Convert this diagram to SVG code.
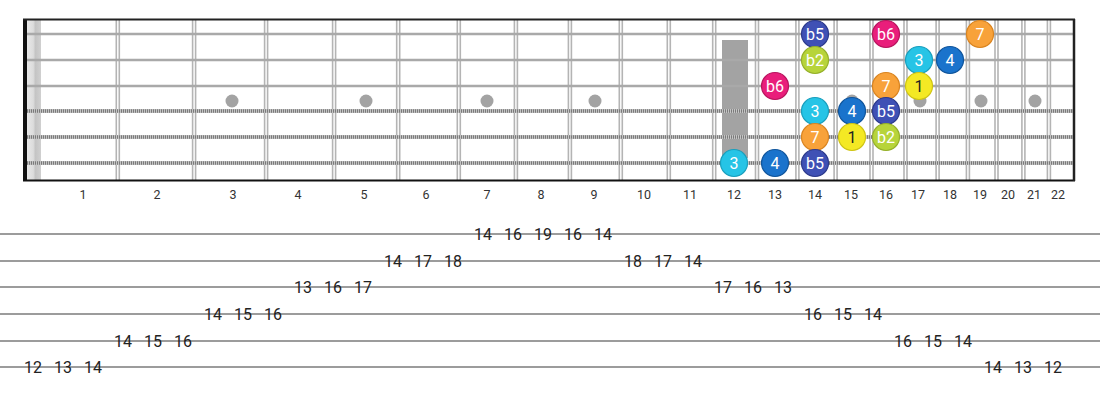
<svg xmlns="http://www.w3.org/2000/svg" width="1100" height="400" viewBox="0 0 1100 400">
<defs>
<linearGradient id="nutg" x1="0" x2="1" y1="0" y2="0">
<stop offset="0" stop-color="#e8e8e8"/><stop offset="0.45" stop-color="#dcdcdc"/><stop offset="0.6" stop-color="#c4c4c4"/><stop offset="1" stop-color="#d0d0d0"/>
</linearGradient>
</defs>
<style>
.fret{stroke:#b4b4b4;stroke-width:1.6;fill:none}
.plain{stroke:#a9a9a9;stroke-width:2.6}
.wbase{stroke:#c4c4c4;stroke-width:4}
.wtex{stroke:#7a7a7a;stroke-width:3.4;stroke-dasharray:1 1}
.inlay{fill:#a3a3a3}
.fnum{font-family:Roboto,"Liberation Sans",sans-serif;font-size:12.5px;fill:#333;text-anchor:middle}
.note circle{stroke-width:1.2}
.note text{font-family:Roboto,"Liberation Sans",sans-serif;font-size:16px;fill:#fff;text-anchor:middle}
.tabline{stroke:#9c9c9c;stroke-width:2}
.tab{font-family:Roboto,"Liberation Sans",sans-serif;font-size:16px;fill:#222;text-anchor:middle}
.cb5{fill:#3f51b5;stroke:#2c3a8c}
.cb6{fill:#e91e7b;stroke:#b8155e}
.c7{fill:#f8a23a;stroke:#d98420}
.cb2{fill:#b7d43a;stroke:#95b02a}
.c3{fill:#26c4e6;stroke:#1a9fbd}
.c4{fill:#1a73cc;stroke:#10559c}
.c1{fill:#f4e924;stroke:#cfc414}
</style>
<rect width="1100" height="400" fill="#fff"/>
<g id="fretboard">
<rect x="27" y="19" width="14" height="162" fill="url(#nutg)"/>
<g id="frets">
<path class="fret" d="M116.3 19V181M119.3 19V181M192.6 19V181M195.6 19V181M264.6 19V181M267.6 19V181M332.6 19V181M335.6 19V181M396.7 19V181M399.7 19V181M457.3 19V181M460.3 19V181M514.4 19V181M517.4 19V181M568.4 19V181M571.4 19V181M619.3 19V181M622.3 19V181M667.3 19V181M670.3 19V181M712.7 19V181M715.7 19V181M755.5 19V181M758.5 19V181M795.9 19V181M798.9 19V181M834.1 19V181M837.1 19V181M870 19V181M873 19V181M904 19V181M907 19V181M936.1 19V181M939.1 19V181M966.4 19V181M969.4 19V181M995 19V181M998 19V181M1021.9 19V181M1024.9 19V181M1047.4 19V181M1050.4 19V181"/>
</g>
<g id="inlays">
<circle class="inlay" cx="232" cy="101" r="6.5"/>
<circle class="inlay" cx="366" cy="101" r="6.5"/>
<circle class="inlay" cx="487" cy="101" r="6.5"/>
<circle class="inlay" cx="595" cy="101" r="6.5"/>
<rect class="inlay" x="722" y="40" width="26" height="118"/>
<circle class="inlay" cx="852" cy="101" r="6.5"/>
<circle class="inlay" cx="920" cy="101" r="6.5"/>
<circle class="inlay" cx="981" cy="101" r="6.5"/>
<circle class="inlay" cx="1035" cy="101" r="6.5"/>
</g>
<g id="strings">
<line class="plain" x1="23" y1="34" x2="1074" y2="34"/>
<line class="plain" x1="23" y1="60" x2="1074" y2="60"/>
<line class="plain" x1="23" y1="86" x2="1074" y2="86"/>
<line class="wbase" x1="23" y1="111" x2="1074" y2="111"/>
<line class="wtex" x1="23" y1="111" x2="1074" y2="111"/>
<line class="wbase" x1="23" y1="137" x2="1074" y2="137"/>
<line class="wtex" x1="23" y1="137" x2="1074" y2="137"/>
<line class="wbase" x1="23" y1="163" x2="1074" y2="163"/>
<line class="wtex" x1="23" y1="163" x2="1074" y2="163"/>
</g>
<rect x="23" y="19" width="4" height="162" fill="#111"/>
<line x1="23" y1="19.5" x2="1075" y2="19.5" stroke="#222" stroke-width="2"/>
<line x1="23" y1="180.5" x2="1075" y2="180.5" stroke="#111" stroke-width="2"/>
<line x1="1074" y1="19" x2="1074" y2="181" stroke="#222" stroke-width="2.5"/>
</g>
<g id="fret-numbers">
<text class="fnum" x="83" y="199">1</text>
<text class="fnum" x="157" y="199">2</text>
<text class="fnum" x="233" y="199">3</text>
<text class="fnum" x="298" y="199">4</text>
<text class="fnum" x="364" y="199">5</text>
<text class="fnum" x="426" y="199">6</text>
<text class="fnum" x="487" y="199">7</text>
<text class="fnum" x="541" y="199">8</text>
<text class="fnum" x="594" y="199">9</text>
<text class="fnum" x="644" y="199">10</text>
<text class="fnum" x="690" y="199">11</text>
<text class="fnum" x="734" y="199">12</text>
<text class="fnum" x="775" y="199">13</text>
<text class="fnum" x="815" y="199">14</text>
<text class="fnum" x="851" y="199">15</text>
<text class="fnum" x="886" y="199">16</text>
<text class="fnum" x="918" y="199">17</text>
<text class="fnum" x="950" y="199">18</text>
<text class="fnum" x="980" y="199">19</text>
<text class="fnum" x="1008" y="199">20</text>
<text class="fnum" x="1034" y="199">21</text>
<text class="fnum" x="1058" y="199">22</text>
</g>
<g id="notes">
<g id="n1-14" class="note"><circle class="cb5" cx="815" cy="34" r="13.5"/><text x="815" y="39.8">b5</text></g>
<g id="n1-16" class="note"><circle class="cb6" cx="886" cy="34" r="13.5"/><text x="886" y="39.8">b6</text></g>
<g id="n1-19" class="note"><circle class="c7" cx="980" cy="34" r="13.5"/><text x="980" y="39.8">7</text></g>
<g id="n2-14" class="note"><circle class="cb2" cx="815" cy="60" r="13.5"/><text x="815" y="65.8">b2</text></g>
<g id="n2-17" class="note"><circle class="c3" cx="919" cy="60" r="13.5"/><text x="919" y="65.8">3</text></g>
<g id="n2-18" class="note"><circle class="c4" cx="950" cy="60" r="13.5"/><text x="950" y="65.8">4</text></g>
<g id="n3-13" class="note"><circle class="cb6" cx="775" cy="86" r="13.5"/><text x="775" y="91.8">b6</text></g>
<g id="n3-16" class="note"><circle class="c7" cx="886" cy="86" r="13.5"/><text x="886" y="91.8">7</text></g>
<g id="n3-17" class="note"><circle class="c1" cx="919" cy="86" r="13.5"/><text x="919" y="91.8" style="fill:#222">1</text></g>
<g id="n4-14" class="note"><circle class="c3" cx="815" cy="111" r="13.5"/><text x="815" y="116.8">3</text></g>
<g id="n4-15" class="note"><circle class="c4" cx="852" cy="111" r="13.5"/><text x="852" y="116.8">4</text></g>
<g id="n4-16" class="note"><circle class="cb5" cx="886" cy="111" r="13.5"/><text x="886" y="116.8">b5</text></g>
<g id="n5-14" class="note"><circle class="c7" cx="815" cy="137" r="13.5"/><text x="815" y="142.8">7</text></g>
<g id="n5-15" class="note"><circle class="c1" cx="852" cy="137" r="13.5"/><text x="852" y="142.8" style="fill:#222">1</text></g>
<g id="n5-16" class="note"><circle class="cb2" cx="886" cy="137" r="13.5"/><text x="886" y="142.8">b2</text></g>
<g id="n6-12" class="note"><circle class="c3" cx="734" cy="163" r="13.5"/><text x="734" y="168.8">3</text></g>
<g id="n6-13" class="note"><circle class="c4" cx="775" cy="163" r="13.5"/><text x="775" y="168.8">4</text></g>
<g id="n6-14" class="note"><circle class="cb5" cx="815" cy="163" r="13.5"/><text x="815" y="168.8">b5</text></g>
</g>
<g id="tab-lines">
<line class="tabline" x1="0" y1="234" x2="1100" y2="234"/>
<line class="tabline" x1="0" y1="261" x2="1100" y2="261"/>
<line class="tabline" x1="0" y1="287" x2="1100" y2="287"/>
<line class="tabline" x1="0" y1="314" x2="1100" y2="314"/>
<line class="tabline" x1="0" y1="341" x2="1100" y2="341"/>
<line class="tabline" x1="0" y1="367" x2="1100" y2="367"/>
</g>
<g id="tab-numbers">
<text class="tab" x="33" y="372.8">12</text>
<text class="tab" x="63" y="372.8">13</text>
<text class="tab" x="93" y="372.8">14</text>
<text class="tab" x="123" y="346.8">14</text>
<text class="tab" x="153" y="346.8">15</text>
<text class="tab" x="183" y="346.8">16</text>
<text class="tab" x="213" y="319.8">14</text>
<text class="tab" x="243" y="319.8">15</text>
<text class="tab" x="273" y="319.8">16</text>
<text class="tab" x="303" y="292.8">13</text>
<text class="tab" x="333" y="292.8">16</text>
<text class="tab" x="363" y="292.8">17</text>
<text class="tab" x="393" y="266.8">14</text>
<text class="tab" x="423" y="266.8">17</text>
<text class="tab" x="453" y="266.8">18</text>
<text class="tab" x="483" y="239.8">14</text>
<text class="tab" x="513" y="239.8">16</text>
<text class="tab" x="543" y="239.8">19</text>
<text class="tab" x="573" y="239.8">16</text>
<text class="tab" x="603" y="239.8">14</text>
<text class="tab" x="633" y="266.8">18</text>
<text class="tab" x="663" y="266.8">17</text>
<text class="tab" x="693" y="266.8">14</text>
<text class="tab" x="723" y="292.8">17</text>
<text class="tab" x="753" y="292.8">16</text>
<text class="tab" x="783" y="292.8">13</text>
<text class="tab" x="813" y="319.8">16</text>
<text class="tab" x="843" y="319.8">15</text>
<text class="tab" x="873" y="319.8">14</text>
<text class="tab" x="903" y="346.8">16</text>
<text class="tab" x="933" y="346.8">15</text>
<text class="tab" x="963" y="346.8">14</text>
<text class="tab" x="993" y="372.8">14</text>
<text class="tab" x="1023" y="372.8">13</text>
<text class="tab" x="1053" y="372.8">12</text>
</g>
</svg>
